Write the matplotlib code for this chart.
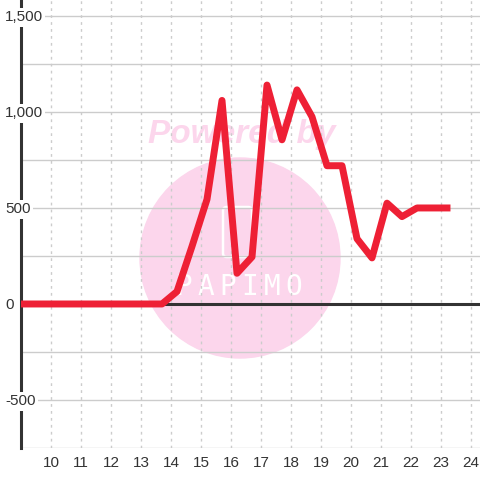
import matplotlib
matplotlib.use("Agg")
import matplotlib.pyplot as plt
from matplotlib.patches import Circle, FancyBboxPatch

plt.rcParams['font.family'] = ['Liberation Sans', 'DejaVu Sans']

# data (half-hour steps)
hours = [8.7, 9.2, 9.7, 10.2, 10.7, 11.2, 11.7, 12.2, 12.7, 13.2, 13.7,
         14.2, 14.7, 15.2, 15.7, 16.2, 16.7, 17.2, 17.7, 18.2, 18.7,
         19.2, 19.7, 20.2, 20.7, 21.2, 21.7, 22.2, 22.7, 23.2]
values = [0, 0, 0, 0, 0, 0, 0, 0, 0, 0, 0,
          65, 300, 545, 1060, 160, 245, 1140, 855, 1115, 975,
          720, 720, 340, 240, 525, 455, 500, 500, 500]
x_ticks = list(range(10, 25))
y_ticks = [-500, 0, 500, 1000, 1500]
y_grid = [-750, -500, -250, 0, 250, 500, 750, 1000, 1250, 1500]

fig = plt.figure(figsize=(4.8, 4.8), dpi=100)
ax = fig.add_axes([21 / 480, 32 / 480, 459 / 480, 448 / 480])
ax.set_xlim(9, 24.3)
ax.set_ylim(-750, 1583)

# watermark (behind grid and line), placed in figure pixels / 480
pink = '#fcd6ec'
ax.add_patch(Circle((240 / 480, 1 - 258 / 480), 100 / 480,
                    transform=fig.transFigure, color=pink, zorder=0.5,
                    clip_on=False))
ax.text(242 / 480, 1 - 134 / 480, 'Powered by', color=pink,
        fontsize=24, fontweight='bold', fontstyle='italic',
        ha='center', va='center', zorder=0.6, transform=fig.transFigure)
ax.add_patch(FancyBboxPatch((223 / 480, 1 - 257 / 480), 29 / 480, 50 / 480,
                            boxstyle='round,pad=0,rounding_size=0.008',
                            transform=fig.transFigure, fill=False,
                            edgecolor='white', linewidth=1.8, zorder=0.6))
for i, ch in enumerate('PAPIMO'):
    ax.text((184 + 22 * i) / 480, 1 - 287 / 480, ch, color='white',
            fontsize=20, family='DejaVu Sans Mono', ha='center', va='center',
            zorder=0.6, transform=fig.transFigure)

for y in y_grid:
    ax.axhline(y, color='#cccccc', linewidth=1, zorder=1)
for x in x_ticks:
    ax.axvline(x, color='#cccccc', linewidth=1, linestyle=(0, (2, 3)), zorder=1)
ax.axhline(0, color='#333333', linewidth=2.2, zorder=2)

ax.plot(hours, values, color='#ee2035', linewidth=5, zorder=3,
        solid_joinstyle='round')

for s in ['top', 'right', 'bottom']:
    ax.spines[s].set_visible(False)
ax.spines['left'].set_color('#333333')
ax.spines['left'].set_linewidth(2.2)
ax.spines['left'].set_zorder(2)
ax.yaxis.set_zorder(4)

ax.set_xticks(x_ticks)
ax.set_xticklabels([str(t) for t in x_ticks])
ax.set_yticks(y_ticks)
ax.set_yticklabels([f'{t:,}' for t in y_ticks])
ax.tick_params(axis='both', length=0, labelsize=11, labelcolor='#333333')
ax.tick_params(axis='x', pad=6)
ax.tick_params(axis='y', pad=11.5)
for lab in ax.get_yticklabels():
    lab.set_horizontalalignment('left')
    lab.set_bbox(dict(facecolor='white', edgecolor='none', pad=1.5))

fig.savefig('out.png', dpi=100)
